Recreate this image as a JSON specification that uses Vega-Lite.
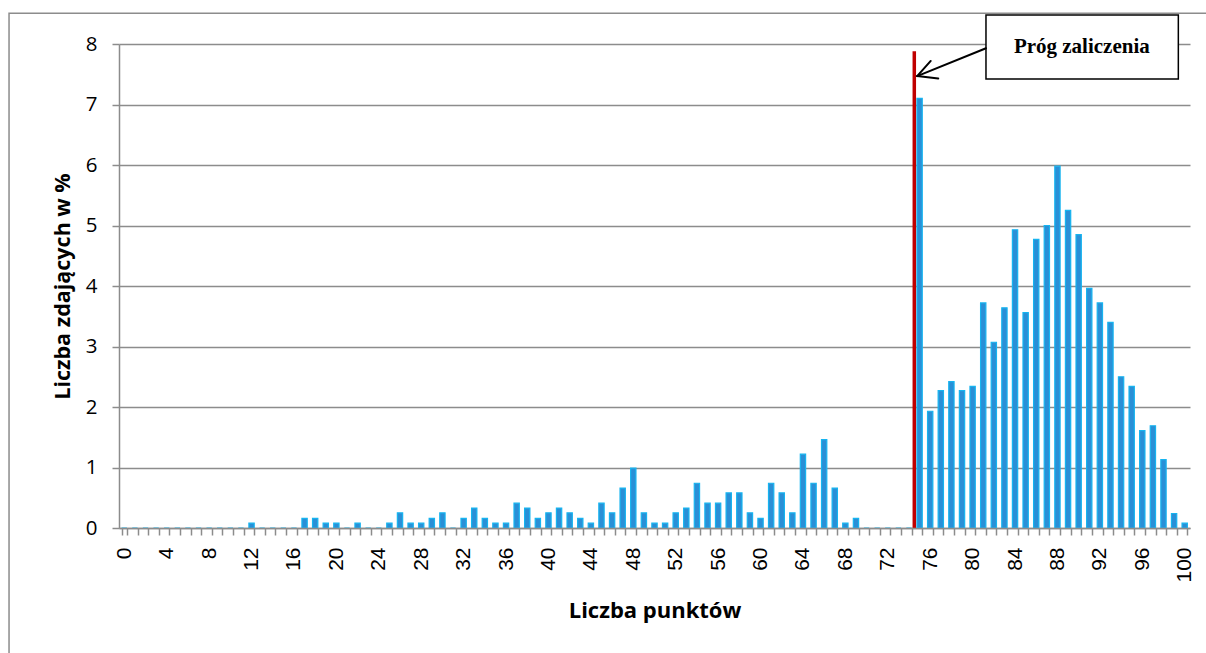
{
  "$schema": "https://vega.github.io/schema/vega-lite/v6.json",
  "width": 1071,
  "height": 484,
  "autosize": {"type": "none"},
  "padding": {"left": 119, "top": 44, "right": 16, "bottom": 125},
  "background": "white",
  "config": {
    "view": {"stroke": null},
    "font": "Liberation Sans"
  },
  "layer": [
    {
      "data": {
        "values": [
          {"p": 0, "v": 0}, {"p": 1, "v": 0}, {"p": 2, "v": 0}, {"p": 3, "v": 0}, {"p": 4, "v": 0},
          {"p": 5, "v": 0}, {"p": 6, "v": 0}, {"p": 7, "v": 0}, {"p": 8, "v": 0}, {"p": 9, "v": 0},
          {"p": 10, "v": 0}, {"p": 11, "v": 0}, {"p": 12, "v": 0.08}, {"p": 13, "v": 0}, {"p": 14, "v": 0},
          {"p": 15, "v": 0}, {"p": 16, "v": 0}, {"p": 17, "v": 0.16}, {"p": 18, "v": 0.16}, {"p": 19, "v": 0.08},
          {"p": 20, "v": 0.08}, {"p": 21, "v": 0}, {"p": 22, "v": 0.08}, {"p": 23, "v": 0}, {"p": 24, "v": 0},
          {"p": 25, "v": 0.08}, {"p": 26, "v": 0.25}, {"p": 27, "v": 0.08}, {"p": 28, "v": 0.08}, {"p": 29, "v": 0.16},
          {"p": 30, "v": 0.25}, {"p": 31, "v": 0}, {"p": 32, "v": 0.16}, {"p": 33, "v": 0.33}, {"p": 34, "v": 0.16},
          {"p": 35, "v": 0.08}, {"p": 36, "v": 0.08}, {"p": 37, "v": 0.41}, {"p": 38, "v": 0.33}, {"p": 39, "v": 0.16},
          {"p": 40, "v": 0.25}, {"p": 41, "v": 0.33}, {"p": 42, "v": 0.25}, {"p": 43, "v": 0.16}, {"p": 44, "v": 0.08},
          {"p": 45, "v": 0.41}, {"p": 46, "v": 0.25}, {"p": 47, "v": 0.66}, {"p": 48, "v": 0.99}, {"p": 49, "v": 0.25},
          {"p": 50, "v": 0.08}, {"p": 51, "v": 0.08}, {"p": 52, "v": 0.25}, {"p": 53, "v": 0.33}, {"p": 54, "v": 0.74},
          {"p": 55, "v": 0.41}, {"p": 56, "v": 0.41}, {"p": 57, "v": 0.58}, {"p": 58, "v": 0.58}, {"p": 59, "v": 0.25},
          {"p": 60, "v": 0.16}, {"p": 61, "v": 0.74}, {"p": 62, "v": 0.58}, {"p": 63, "v": 0.25}, {"p": 64, "v": 1.22},
          {"p": 65, "v": 0.74}, {"p": 66, "v": 1.46}, {"p": 67, "v": 0.66}, {"p": 68, "v": 0.08}, {"p": 69, "v": 0.16},
          {"p": 70, "v": 0}, {"p": 71, "v": 0}, {"p": 72, "v": 0}, {"p": 73, "v": 0}, {"p": 74, "v": 0},
          {"p": 75, "v": 7.1}, {"p": 76, "v": 1.93}, {"p": 77, "v": 2.27}, {"p": 78, "v": 2.42}, {"p": 79, "v": 2.27},
          {"p": 80, "v": 2.34}, {"p": 81, "v": 3.72}, {"p": 82, "v": 3.07}, {"p": 83, "v": 3.64}, {"p": 84, "v": 4.93},
          {"p": 85, "v": 3.56}, {"p": 86, "v": 4.77}, {"p": 87, "v": 5.0}, {"p": 88, "v": 5.98}, {"p": 89, "v": 5.25},
          {"p": 90, "v": 4.85}, {"p": 91, "v": 3.96}, {"p": 92, "v": 3.72}, {"p": 93, "v": 3.40}, {"p": 94, "v": 2.50},
          {"p": 95, "v": 2.34}, {"p": 96, "v": 1.61}, {"p": 97, "v": 1.69}, {"p": 98, "v": 1.13}, {"p": 99, "v": 0.24},
          {"p": 100, "v": 0.08}
        ]
      },
      "mark": {"type": "bar", "fill": "#2a8fd6", "stroke": "#16b4f0", "strokeWidth": 1.2},
      "encoding": {
        "x": {
          "field": "p",
          "type": "ordinal",
          "scale": {"paddingInner": 0.5, "paddingOuter": 0.25},
          "axis": {
            "title": "Liczba punktów",
            "titleFont": "Open Sans",
            "titleFontWeight": "bold",
            "titleFontSize": 22,
            "titleColor": "#000000",
            "titlePadding": 18,
            "labelExpr": "datum.value % 4 === 0 ? datum.label : ''",
            "labelOverlap": false,
            "labelAngle": -90,
            "labelFontSize": 21,
            "labelColor": "#000000",
            "labelPadding": 12,
            "tickBand": "extent",
            "tickSize": 7,
            "tickColor": "#8c8c8c",
            "tickWidth": 1.5,
            "domainColor": "#8c8c8c",
            "domainWidth": 1.5,
            "grid": false,
            "zindex": 1
          }
        },
        "y": {
          "field": "v",
          "type": "quantitative",
          "scale": {"domain": [0, 8], "nice": false},
          "axis": {
            "title": "Liczba zdających w %",
            "titleFont": "Open Sans",
            "titleFontWeight": "bold",
            "titleFontSize": 21.5,
            "titleColor": "#000000",
            "titlePadding": 11,
            "values": [0, 1, 2, 3, 4, 5, 6, 7, 8],
            "labelFont": "Open Sans",
            "labelFontSize": 20.5,
            "labelColor": "#000000",
            "labelPadding": 15,
            "tickSize": 7,
            "tickColor": "#8c8c8c",
            "tickWidth": 1.5,
            "domainColor": "#8c8c8c",
            "domainWidth": 1.5,
            "grid": true,
            "gridColor": "#8c8c8c",
            "gridWidth": 1.5
          }
        }
      }
    },
    {
      "layer": [
        {
          "data": {"values": [{"x": -10.87, "x2": 112, "y": 8.51, "y2": -5}]},
          "mark": {"type": "rect", "fill": "white", "fillOpacity": 0, "stroke": "#8c8c8c", "strokeWidth": 1.5},
          "encoding": {
            "x": {"field": "x", "type": "quantitative", "scale": {"domain": [-0.5, 100.5], "nice": false, "zero": false}, "axis": null},
            "x2": {"field": "x2"},
            "y": {"field": "y", "type": "quantitative", "scale": {"domain": [0, 8], "nice": false, "zero": false}, "axis": null},
            "y2": {"field": "y2"}
          }
        },
        {
          "data": {"values": [{"x": 74.5, "y": 0, "y2": 7.88}]},
          "mark": {"type": "rule", "color": "#c00000", "strokeWidth": 3.5},
          "encoding": {
            "x": {"field": "x", "type": "quantitative", "scale": {"domain": [-0.5, 100.5], "nice": false, "zero": false}, "axis": null},
            "y": {"field": "y", "type": "quantitative", "scale": {"domain": [0, 8], "nice": false, "zero": false}, "axis": null},
            "y2": {"field": "y2"}
          }
        },
        {
          "data": {"values": [{"x": 81.26, "x2": 99.4, "y": 8.48, "y2": 7.42}]},
          "mark": {"type": "rect", "fill": "white", "stroke": "#000000", "strokeWidth": 1.5},
          "encoding": {
            "x": {"field": "x", "type": "quantitative", "scale": {"domain": [-0.5, 100.5], "nice": false, "zero": false}, "axis": null},
            "x2": {"field": "x2"},
            "y": {"field": "y", "type": "quantitative", "scale": {"domain": [0, 8], "nice": false, "zero": false}, "axis": null},
            "y2": {"field": "y2"}
          }
        },
        {
          "data": {"values": [{"x": 90.3, "y": 7.95, "t": "Próg zaliczenia"}]},
          "mark": {"type": "text", "font": "Liberation Serif", "fontWeight": "bold", "fontSize": 21, "baseline": "middle", "align": "center", "color": "#000000"},
          "encoding": {
            "x": {"field": "x", "type": "quantitative", "scale": {"domain": [-0.5, 100.5], "nice": false, "zero": false}, "axis": null},
            "y": {"field": "y", "type": "quantitative", "scale": {"domain": [0, 8], "nice": false, "zero": false}, "axis": null},
            "text": {"field": "t"}
          }
        },
        {
          "data": {"values": [
            {"x": 81.26, "y": 7.93, "x2": 74.77, "y2": 7.47},
            {"x": 76.05, "y": 7.72, "x2": 74.77, "y2": 7.47},
            {"x": 76.76, "y": 7.43, "x2": 74.77, "y2": 7.47}
          ]},
          "mark": {"type": "rule", "color": "#000000", "strokeWidth": 2, "strokeCap": "round"},
          "encoding": {
            "x": {"field": "x", "type": "quantitative", "scale": {"domain": [-0.5, 100.5], "nice": false, "zero": false}, "axis": null},
            "x2": {"field": "x2"},
            "y": {"field": "y", "type": "quantitative", "scale": {"domain": [0, 8], "nice": false, "zero": false}, "axis": null},
            "y2": {"field": "y2"}
          }
        }
      ]
    }
  ],
  "resolve": {
    "scale": {"x": "independent", "y": "independent"},
    "axis": {"x": "independent", "y": "independent"}
  }
}
